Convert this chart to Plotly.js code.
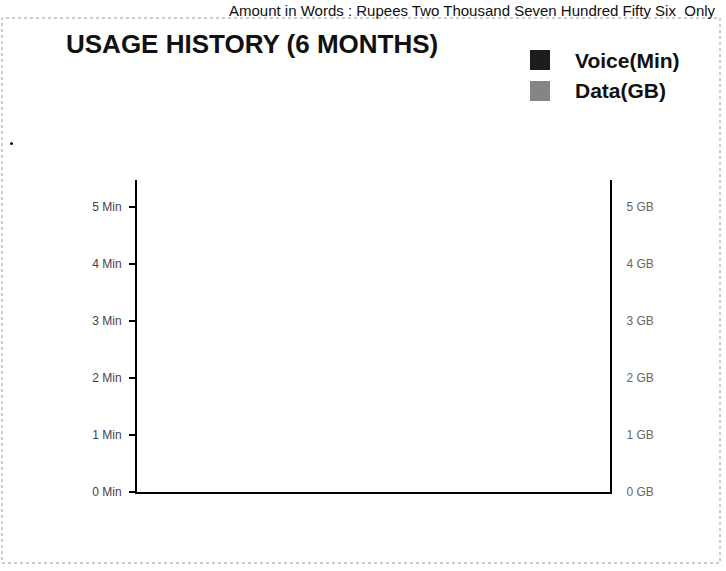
<!DOCTYPE html>
<html>
<head>
<meta charset="utf-8">
<script src="https://cdn.plot.ly/plotly-3.0.1.min.js"></script>
<style>html,body{margin:0;padding:0;background:#fff;}#chart{width:726px;height:571px;}</style>
</head>
<body>
<div id="chart"></div>
<script>
// ---- data ----
const months = ["M1", "M2", "M3", "M4", "M5", "M6"];
const voiceMin = [0, 0, 0, 0, 0, 0];
const dataGB = [0, 0, 0, 0, 0, 0];
const seriesNames = ["Voice(Min)", "Data(GB)"];
const seriesColors = ["#1c1c1c", "#858585"];
const yTickVals = [0, 1, 2, 3, 4, 5];
const voiceTickText = ["0 Min", "1 Min", "2 Min", "3 Min", "4 Min", "5 Min"];
const dataTickText = ["0 GB", "1 GB", "2 GB", "3 GB", "4 GB", "5 GB"];
const titleText = "USAGE HISTORY (6 MONTHS)";
const headerText = "Amount in Words : Rupees Two Thousand Seven Hundred Fifty Six  Only";

// ---- layout geometry (pixels) ----
const W = 726, H = 571;
const L = 137, R = 610, T = 180, B = 492;
const px = x => (x - L) / (R - L);
const py = y => (B - y) / (B - T);
const FONT = "Liberation Sans, Arial, sans-serif";

const traces = [
  { type: "bar", x: months, y: voiceMin, name: seriesNames[0], marker: { color: seriesColors[0] }, yaxis: "y", showlegend: false, hoverinfo: "skip" },
  { type: "bar", x: months, y: dataGB, name: seriesNames[1], marker: { color: seriesColors[1] }, yaxis: "y2", showlegend: false, hoverinfo: "skip" }
];

const shapes = [
  // dotted frame
  { type: "rect", xref: "paper", yref: "paper", x0: px(2), x1: px(720), y0: py(563), y1: py(18),
    line: { color: "#9a9a9a", width: 1, dash: "dot" }, fillcolor: "rgba(0,0,0,0)", layer: "below" },
  // scan speck
  { type: "circle", xref: "paper", yref: "paper", x0: px(10), x1: px(13), y0: py(145), y1: py(142),
    line: { width: 0 }, fillcolor: "#111" }
];
const annotations = [
  { xref: "paper", yref: "paper", x: px(718), y: py(0), xanchor: "right", yanchor: "top", showarrow: false,
    text: headerText, font: { family: FONT, size: 15, color: "#111" } },
  { xref: "paper", yref: "paper", x: px(64), y: py(44), xanchor: "left", yanchor: "middle", showarrow: false,
    text: "<b>" + titleText + "</b>", font: { family: FONT, size: 26, color: "#111" } }
];
const legendY = [60, 91];
seriesNames.forEach((n, i) => {
  shapes.push({ type: "rect", xref: "paper", yref: "paper", x0: px(530), x1: px(550),
    y0: py(legendY[i] + 10), y1: py(legendY[i] - 10), line: { width: 0 }, fillcolor: seriesColors[i] });
  annotations.push({ xref: "paper", yref: "paper", x: px(573), y: py(legendY[i]), xanchor: "left", yanchor: "middle",
    showarrow: false, text: "<b>" + n + "</b>", font: { family: FONT, size: 21, color: "#111" } });
});

const layout = {
  width: W, height: H,
  margin: { l: L, r: W - R, t: T, b: H - B, pad: 0 },
  paper_bgcolor: "#fff", plot_bgcolor: "#fff",
  showlegend: false,
  barmode: "group",
  font: { family: FONT },
  xaxis: { showline: true, linecolor: "#000", linewidth: 2, showticklabels: false, ticks: "", showgrid: false, zeroline: false, fixedrange: true },
  yaxis: { range: [0, 5.47], tickvals: yTickVals, ticktext: voiceTickText, showline: true, linecolor: "#000", linewidth: 2,
    ticks: "outside", ticklen: 6, tickwidth: 2, tickcolor: "#000", showgrid: false, zeroline: false, ticklabelstandoff: 5,
    tickfont: { family: FONT, size: 12, color: "#444" } },
  yaxis2: { range: [0, 5.47], tickvals: yTickVals, ticktext: dataTickText, overlaying: "y", side: "right", showline: true,
    linecolor: "#000", linewidth: 2, ticks: "", showgrid: false, zeroline: false, ticklabelstandoff: 12,
    tickfont: { family: FONT, size: 12, color: "#666" } },
  shapes: shapes,
  annotations: annotations
};

Plotly.newPlot("chart", traces, layout, { staticPlot: true, displayModeBar: false });
</script>
</body>
</html>
